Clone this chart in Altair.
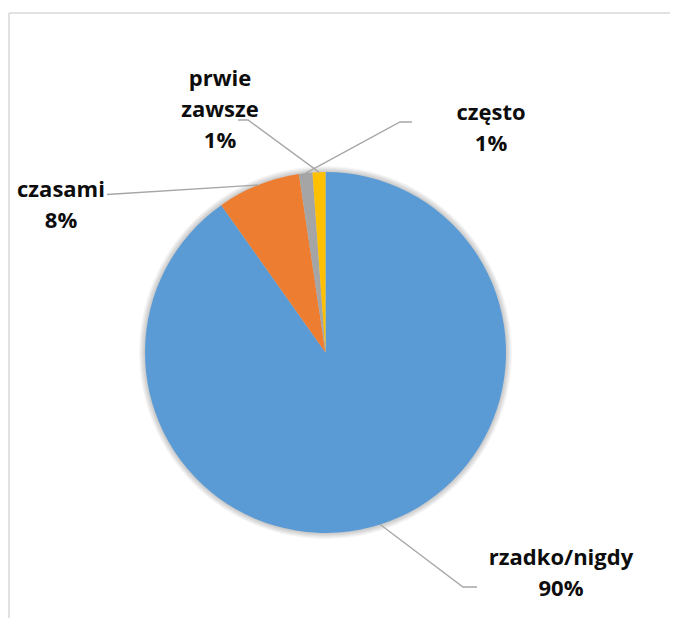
import math
import altair as alt
import pandas as pd

# ---- data ----
categories = ["rzadko/nigdy", "czasami", "często", "prwie zawsze"]
values = [90.2, 7.45, 1.2, 1.15]
pct_labels = ["90%", "8%", "1%", "1%"]
colors = ["#5B9BD5", "#ED7D31", "#A5A5A5", "#FFC000"]

# ---- layout (page pixels; plot origin is at page (8, 8)) ----
M = 8
W, H = 662, 610
CX, CY, R = 325.5, 352.5, 180.5
label_anchor = {  # first-line baseline centre
    "rzadko/nigdy": (561, 565),
    "czasami": (61, 197),
    "często": (491, 120),
    "prwie zawsze": (220, 86),
}
leader_outer = {
    "rzadko/nigdy": [(477, 587), (463, 587)],
    "czasami": [(107, 194.5)],
    "często": [(412, 122), (400, 122)],
    "prwie zawsze": [(238, 120), (248, 120)],
}

pie_df = pd.DataFrame({"cat": categories, "value": values, "idx": list(range(len(categories)))})

# label table
lab_rows = []
for c, p in zip(categories, pct_labels):
    ax, ay = label_anchor[c]
    lab_rows.append({"x": ax - M, "y": ay - M, "txt": c.replace(" ", "\n") + "\n" + p})
lab_df = pd.DataFrame(lab_rows)

# leader lines: outer points + slice mid-angle point on the rim
total = sum(values)
line_rows = []
cum = 0.0
for c, v in zip(categories, values):
    mid = (cum + v / 2) / total * 2 * math.pi
    cum += v
    pts = list(leader_outer[c]) + [(CX + R * math.sin(mid), CY - R * math.cos(mid))]
    for k, (px, py) in enumerate(pts):
        line_rows.append({"seg": c, "pt": k, "x": px - M, "y": py - M})
line_df = pd.DataFrame(line_rows)

one = pd.DataFrame({"a": [0]})

# frame (top and left edges of the chart-area border)
frame_top = alt.Chart(one).mark_rule(color="#D9D9D9", strokeWidth=1.5).encode(
    x=alt.value(9 - M), x2=alt.value(W), y=alt.value(13 - M))
frame_left = alt.Chart(one).mark_rule(color="#D9D9D9", strokeWidth=1.5).encode(
    x=alt.value(9 - M), y=alt.value(13 - M), y2=alt.value(H))

# soft shadow around the pie
shadows = [
    alt.Chart(one).mark_arc(radius=R + i, theta=0, theta2=2 * math.pi, color="#000000",
                            opacity=0.035).encode(x=alt.value(CX - M), y=alt.value(CY - M))
    for i in range(6, 0, -1)
]

pie = alt.Chart(pie_df).mark_arc(radius=R).encode(
    theta=alt.Theta("value:Q", stack=True),
    color=alt.Color("cat:N", scale=alt.Scale(domain=categories, range=colors), legend=None),
    order=alt.Order("idx:Q"),
    x=alt.value(CX - M),
    y=alt.value(CY - M),
)

leaders = alt.Chart(line_df).mark_line(color="#A6A6A6", strokeWidth=1.3).encode(
    x=alt.X("x:Q", scale=None, axis=None),
    y=alt.Y("y:Q", scale=None, axis=None),
    detail="seg:N",
    order=alt.Order("pt:Q"),
)

labels = alt.Chart(lab_df).mark_text(
    font="Open Sans", fontWeight="bold", fontSize=22, color="#0D0D0D",
    align="center", baseline="alphabetic", lineBreak="\n", lineHeight=31,
).encode(
    x=alt.X("x:Q", scale=None, axis=None),
    y=alt.Y("y:Q", scale=None, axis=None),
    text="txt:N",
)

chart = alt.layer(frame_top, frame_left, *shadows, pie, leaders, labels).properties(
    width=W, height=H, padding=0, autosize=alt.AutoSizeParams(type="none"),
    background="white",
).configure_view(stroke=None)

chart.save("out.html", embed_options={"renderer": "svg", "actions": False})
